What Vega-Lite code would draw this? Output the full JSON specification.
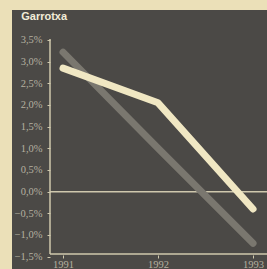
{
  "$schema": "https://vega.github.io/schema/vega-lite/v6.json",
  "width": 255,
  "height": 259,
  "autosize": {"type": "none"},
  "padding": {"left": 12, "top": 10, "right": 0, "bottom": 0},
  "background": "#ebe0b8",
  "config": {"view": {"fill": "#4b4946", "stroke": null}, "axis": {"labelOverlap": false}},
  "datasets": {
    "series": [
      {"year": 1991, "value": 3.22, "series": "gris"},
      {"year": 1992, "value": 1.0, "series": "gris"},
      {"year": 1993, "value": -1.19, "series": "gris"},
      {"year": 1991, "value": 2.85, "series": "blanc"},
      {"year": 1992, "value": 2.05, "series": "blanc"},
      {"year": 1993, "value": -0.4, "series": "blanc"}
    ],
    "rules": [
      {"x": 1990.863, "x2": 1990.863, "y": -1.44, "y2": 3.52},
      {"x": 1990.863, "x2": 1993.147, "y": -1.44, "y2": -1.44},
      {"x": 1990.863, "x2": 1993.147, "y": 0, "y2": 0}
    ],
    "label": [
      {"x": 1990.56, "y": 3.96, "text": "Garrotxa"}
    ]
  },
  "layer": [
    {
      "data": {"name": "rules"},
      "mark": {"type": "rule", "color": "#cfc8ad", "strokeWidth": 1.5},
      "encoding": {
        "x": {"field": "x", "type": "quantitative", "scale": {"domain": [1990.463, 1993.147], "nice": false, "zero": false},
          "axis": {"values": [1991, 1992, 1993], "tickCount": 20, "format": "d", "offset": -14, "domain": false, "grid": false, "tickSize": 3, "tickColor": "#cfc8ad", "labelColor": "#b5b0a0", "labelFont": "Liberation Serif", "labelFontSize": 10.5, "labelPadding": 1, "labelOverlap": false, "title": null}},
        "x2": {"field": "x2"},
        "y": {"field": "y", "type": "quantitative", "scale": {"domain": [-1.785, 4.192], "nice": false, "zero": false},
          "axis": {"values": [-1.5, -1, -0.5, 0, 0.5, 1, 1.5, 2, 2.5, 3, 3.5], "tickCount": 20, "labelExpr": "replace(format(datum.value, '.1f'), '.', ',') + '%'", "offset": -38, "domain": false, "grid": false, "tickSize": 3, "tickColor": "#cfc8ad", "labelColor": "#b5b0a0", "labelFont": "Liberation Serif", "labelFontSize": 10.5, "labelPadding": 5, "labelOverlap": false, "title": null}},
        "y2": {"field": "y2"}
      }
    },
    {
      "data": {"name": "label"},
      "mark": {"type": "text", "align": "left", "baseline": "alphabetic", "font": "Liberation Sans", "fontSize": 11, "fontWeight": "bold", "color": "#f2ecd8"},
      "encoding": {
        "x": {"field": "x", "type": "quantitative"},
        "y": {"field": "y", "type": "quantitative"},
        "text": {"field": "text"}
      }
    },
    {
      "data": {"name": "series"},
      "transform": [{"filter": "datum.series === 'gris'"}],
      "mark": {"type": "line", "color": "#7a776f", "strokeWidth": 7, "strokeCap": "round", "strokeJoin": "round"},
      "encoding": {
        "x": {"field": "year", "type": "quantitative"},
        "y": {"field": "value", "type": "quantitative"}
      }
    },
    {
      "data": {"name": "series"},
      "transform": [{"filter": "datum.series === 'blanc'"}],
      "mark": {"type": "line", "color": "#f0e7c3", "strokeWidth": 7, "strokeCap": "round", "strokeJoin": "round"},
      "encoding": {
        "x": {"field": "year", "type": "quantitative"},
        "y": {"field": "value", "type": "quantitative"}
      }
    }
  ]
}
